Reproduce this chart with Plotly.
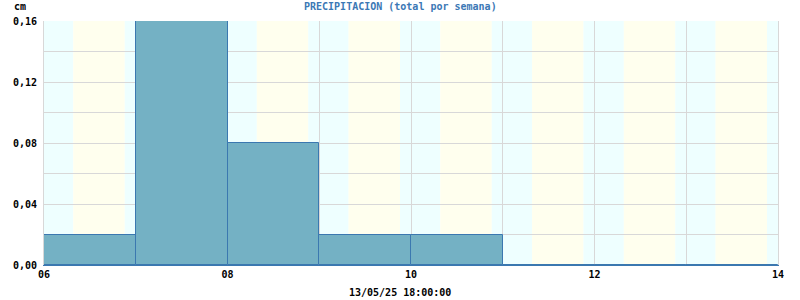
import plotly.graph_objects as go
import pandas as pd

# Data
week_days = ["2025-05-06", "2025-05-07", "2025-05-08", "2025-05-09", "2025-05-10",
             "2025-05-11", "2025-05-12", "2025-05-13"]
precip_cm = [0.02, 0.16, 0.08, 0.02, 0.02, 0.0, 0.0, 0.0]
title_text = "PRECIPITACION (total por semana)"
unit_text = "cm"
footer_text = "13/05/25 18:00:00"

DAY_MS = 86400000
starts = pd.to_datetime(week_days)
centers = starts + pd.Timedelta(hours=12)

fig = go.Figure()
fig.add_trace(go.Bar(
    x=centers, y=precip_cm, width=[DAY_MS] * len(precip_cm),
    marker=dict(color="#74b1c4", line=dict(color="#3b78b0", width=1)),
    hoverinfo="skip", cliponaxis=False,
))

# Day/night background bands
shapes = []
all_days = pd.date_range("2025-05-05", "2025-05-15", freq="D")
for d in all_days:
    n0 = d - pd.Timedelta(hours=2, minutes=53)
    n1 = d + pd.Timedelta(hours=7, minutes=40)
    shapes.append(dict(type="rect", xref="x", yref="paper", x0=n0, x1=n1, y0=0, y1=1,
                       fillcolor="#eeffff", line=dict(width=0), layer="below"))
    shapes.append(dict(type="rect", xref="x", yref="paper", x0=n1, x1=n0 + pd.Timedelta(days=1), y0=0, y1=1,
                       fillcolor="#ffffee", line=dict(width=0), layer="below"))

font_mono = "DejaVu Sans Mono"
fig.update_layout(
    width=800, height=300,
    margin=dict(l=44, r=22, t=21, b=35),
    paper_bgcolor="white", plot_bgcolor="white",
    separators=",.",
    showlegend=False,
    bargap=0,
    shapes=shapes,
    font=dict(family=font_mono, size=10, color="black"),
)
fig.add_annotation(text=f"<b>{title_text}</b>", xref="paper", yref="paper",
                   x=(400 - 44) / 734, y=1 + 15 / 244, xanchor="center", yanchor="middle",
                   showarrow=False, font=dict(family=font_mono, size=10, color="#3b78b5"))
fig.add_annotation(text=f"<b>{unit_text}</b>", xref="paper", yref="paper",
                   x=(12 - 44) / 734, y=1 + 15 / 244, xanchor="left", yanchor="middle",
                   showarrow=False, font=dict(family=font_mono, size=10, color="black"))
fig.add_annotation(text=f"<b>{footer_text}</b>", xref="paper", yref="paper",
                   x=(400 - 44) / 734, y=-27 / 244, xanchor="center", yanchor="middle",
                   showarrow=False, font=dict(family=font_mono, size=10, color="black"))

fig.update_xaxes(
    type="date",
    range=["2025-05-06", "2025-05-14"],
    tickformat="%d", dtick=2 * DAY_MS, tick0="2025-05-06",
    tickfont=dict(family=font_mono, size=10, color="black", weight="bold"),
    showgrid=True, gridcolor="#d8d8d8", gridwidth=1,
    minor=dict(dtick=DAY_MS, tick0="2025-05-06", showgrid=True, gridcolor="#d8d8d8", gridwidth=1),
    showline=True, linecolor="#3b78b0", linewidth=1,
    ticks="", zeroline=False, fixedrange=True,
)
fig.update_yaxes(
    range=[0, 0.16], dtick=0.04, tick0=0, tickformat=".2f",
    tickfont=dict(family=font_mono, size=10, color="black", weight="bold"),
    showgrid=True, gridcolor="#d8d8d8", gridwidth=1,
    minor=dict(dtick=0.02, showgrid=True, gridcolor="#d8d8d8", gridwidth=1),
    showline=True, linecolor="#d8d8d8", mirror=True,
    ticks="", zeroline=False, ticklabelstandoff=4,
)

fig.write_html("out.html")
